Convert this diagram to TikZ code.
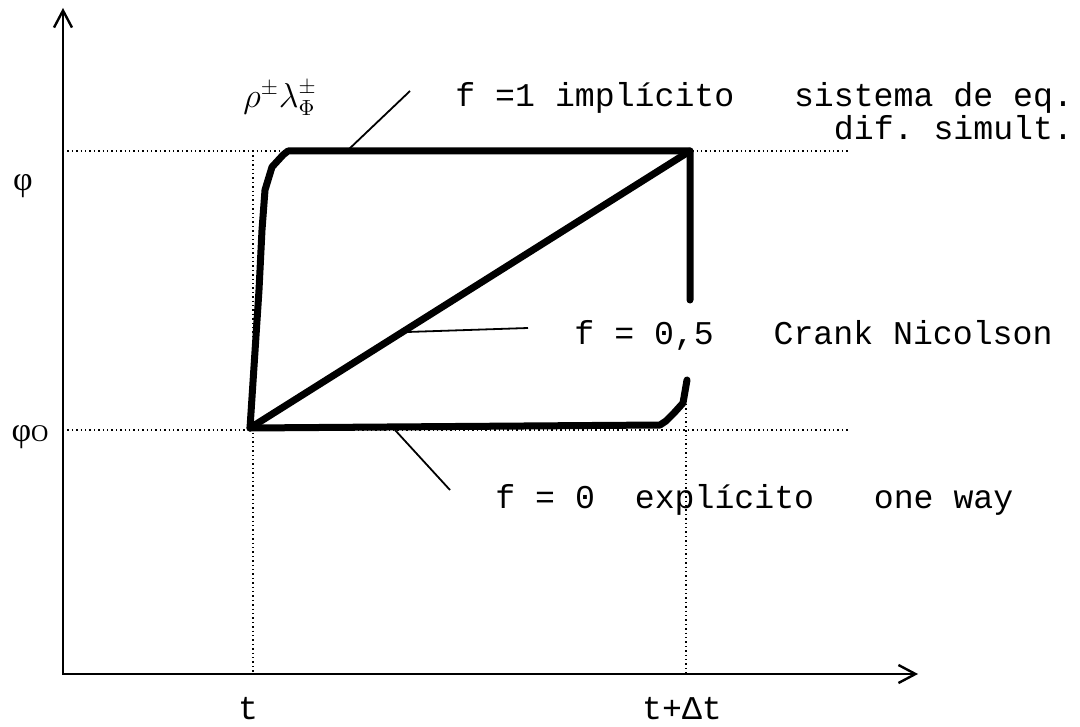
\documentclass[tikz,border=0pt]{standalone}
\usepackage{fontspec}
\usepackage{amsmath,amssymb}
\setmonofont{Liberation Mono}
\newfontfamily\grkfont{Liberation Serif}
\usetikzlibrary{positioning, calc, arrows.meta}

\tikzset{
    axis/.style={line width=1.2pt},
    guide/.style={line width=0.7pt, dash pattern=on 0.7pt off 1.5pt},
    path/.style={line width=3.5pt, line join=round, line cap=round},
    pointer/.style={line width=0.9pt},
    lbl/.style={inner sep=0pt, font=\ttfamily\fontsize{16.6}{20}\selectfont},
    grk/.style={inner sep=0pt, font=\grkfont\fontsize{17}{20}\selectfont},
}

\begin{document}
\begin{tikzpicture}[x=0.5pt, y=-0.5pt, >={Straight Barb[length=8.5pt,width=9pt]}]
    \useasboundingbox (0,0) rectangle (1080,727);

    % --- Axes ---
    \coordinate (o) at (63,674);
    \coordinate (ytip) at (63,8);
    \coordinate (xtip) at (918,674);
    \draw[axis, <->] (ytip) -- (o) -- (xtip);

    % --- Dotted guides ---
    \coordinate (phia) at (63,151);   \coordinate (phib) at (848,151);
    \coordinate (phioa) at (63,430);  \coordinate (phiob) at (848,430);
    \coordinate (ta) at (253,151);    \coordinate (tb) at (253,674);
    \coordinate (tda) at (686,395);   \coordinate (tdb) at (686,674);
    \draw[guide] (phia) -- (phib);
    \draw[guide] (phioa) -- (phiob);
    \draw[guide] (ta) -- (tb);
    \draw[guide] (tda) -- (tdb);

    % --- Axis labels ---
    \node[grk] (phi) at (23,186) {φ};
    \node[grk] (phio) at (30,437) {φ{\fontsize{12}{14}\selectfont O}};
    \node[lbl] (t) at (248,709) {t};
    \node[lbl] (tdt) at (682,709) {t+Δt};

    % --- Schemes ---
    \coordinate (start) at (250,428);
    \coordinate (end) at (690,151);
    % f = 1 (implicit)
    \draw[path] (start) -- (259,290) -- (262,230) -- (265,190) -- (272,167) -- (283,155)
        -- (288,151) -- (end) -- (690,300);
    % f = 0 (explicit)
    \draw[path] (start) -- (660,425) -- (666,421) -- (674,413) -- (683,403) -- (687,380);
    % f = 0.5 (Crank Nicolson)
    \draw[path] (start) -- (end);

    % --- Texts and pointers ---
    \node[inner sep=0pt, font=\fontsize{16}{20}\selectfont] (rho) at (280,98)
        {$\rho^{\pm}\lambda^{\pm}_{\Phi}$};
    \node[lbl, anchor=west] (impl) at (455,98) {f =1 implícito~~~sistema de eq.};
    \node[lbl, anchor=east] (simult) at (impl.east |- 0,128) {dif. simult.};
    \node[lbl, anchor=west] (crank) at (574,335) {f = 0,5~~~Crank Nicolson};
    \node[lbl, anchor=west] (expl) at (495,500) {f = 0~~explícito~~~one way};

    \coordinate (p1a) at (347,151);  \coordinate (p1b) at (410,91);
    \coordinate (p2a) at (407,332);  \coordinate (p2b) at (528,328);
    \coordinate (p3a) at (395,430);  \coordinate (p3b) at (450,490);
    \draw[pointer] (p1a) -- (p1b);
    \draw[pointer] (p2a) -- (p2b);
    \draw[pointer] (p3a) -- (p3b);

\end{tikzpicture}
\end{document}
